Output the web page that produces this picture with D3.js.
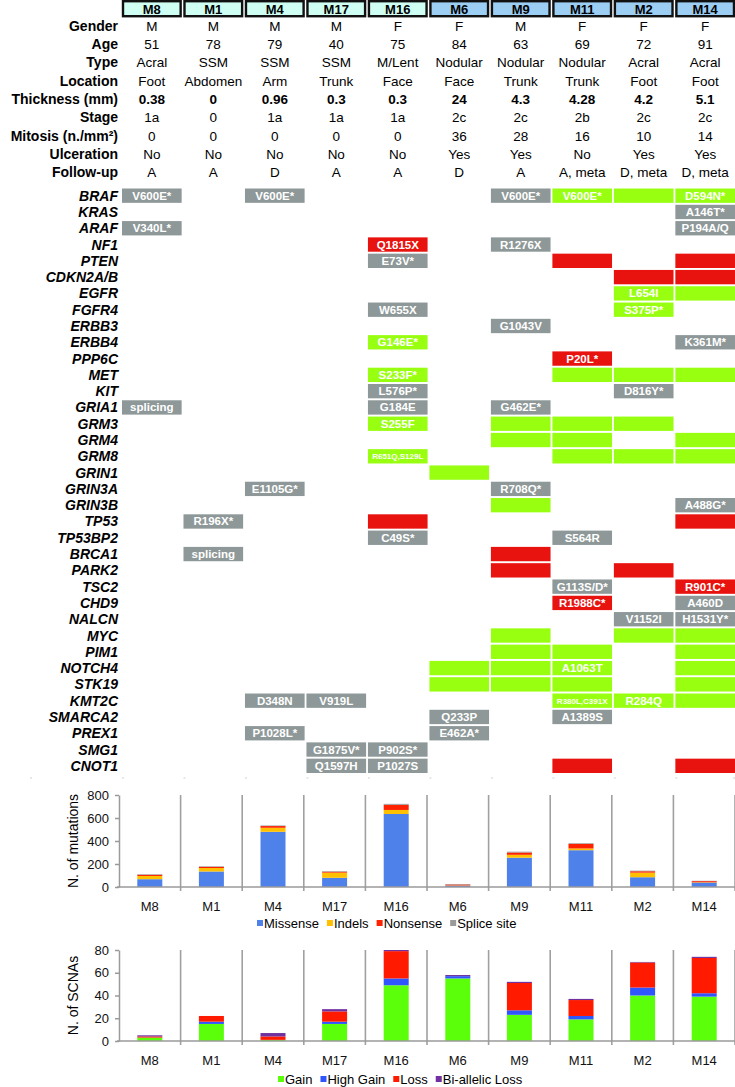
<!DOCTYPE html>
<html>
<head>
<meta charset="utf-8">
<script src="https://cdn.jsdelivr.net/npm/d3@7"></script>
<style>
body { margin: 0; background: #fff; }
svg { font-family: 'Liberation Sans', Arial, Helvetica, sans-serif; }
.axis path, .axis line { stroke: #9a9a9a; stroke-width: 1.5; }
.axis text { font-size: 13px; fill: #111; }
</style>
</head>
<body>
<svg id="chart" width="735" height="1087"></svg>
<script>
var samples = ['M8', 'M1', 'M4', 'M17', 'M16', 'M6', 'M9', 'M11', 'M2', 'M14'];
var sampleGroup = ['a', 'a', 'a', 'a', 'a', 'b', 'b', 'b', 'b', 'b'];

var clinicalLabels = ['Gender', 'Age', 'Type', 'Location', 'Thickness (mm)', 'Stage', 'Mitosis (n./mm\u00b2)', 'Ulceration', 'Follow-up'];
var gender = ['M', 'M', 'M', 'M', 'F', 'F', 'M', 'F', 'F', 'F'];
var age = ['51', '78', '79', '40', '75', '84', '63', '69', '72', '91'];
var tumourType = ['Acral', 'SSM', 'SSM', 'SSM', 'M/Lent', 'Nodular', 'Nodular', 'Nodular', 'Acral', 'Acral'];
var tumourSite = ['Foot', 'Abdomen', 'Arm', 'Trunk', 'Face', 'Face', 'Trunk', 'Trunk', 'Foot', 'Foot'];
var thickness = ['0.38', '0', '0.96', '0.3', '0.3', '24', '4.3', '4.28', '4.2', '5.1'];
var stage = ['1a', '0', '1a', '1a', '1a', '2c', '2c', '2b', '2c', '2c'];
var mitosis = ['0', '0', '0', '0', '0', '36', '28', '16', '10', '14'];
var ulceration = ['No', 'No', 'No', 'No', 'No', 'Yes', 'Yes', 'No', 'Yes', 'Yes'];
var followUp = ['A', 'A', 'D', 'A', 'A', 'D', 'A', 'A, meta', 'D, meta', 'D, meta'];

var genes = ['BRAF', 'KRAS', 'ARAF', 'NF1', 'PTEN', 'CDKN2A/B', 'EGFR', 'FGFR4', 'ERBB3', 'ERBB4',
    'PPP6C', 'MET', 'KIT', 'GRIA1', 'GRM3', 'GRM4', 'GRM8', 'GRIN1', 'GRIN3A', 'GRIN3B',
    'TP53', 'TP53BP2', 'BRCA1', 'PARK2', 'TSC2', 'CHD9', 'NALCN', 'MYC', 'PIM1', 'NOTCH4',
    'STK19', 'KMT2C', 'SMARCA2', 'PREX1', 'SMG1', 'CNOT1'];

// [gene, sample, kind, label]   kind: mut = point mutation, gain, loss
var alterations = [
    ['BRAF', 'M8', 'mut', 'V600E*'], ['BRAF', 'M4', 'mut', 'V600E*'], ['BRAF', 'M9', 'mut', 'V600E*'],
    ['BRAF', 'M11', 'gain', 'V600E*'], ['BRAF', 'M2', 'gain', ''], ['BRAF', 'M14', 'gain', 'D594N*'],
    ['KRAS', 'M14', 'mut', 'A146T*'],
    ['ARAF', 'M8', 'mut', 'V340L*'], ['ARAF', 'M14', 'mut', 'P194A/Q'],
    ['NF1', 'M16', 'loss', 'Q1815X'], ['NF1', 'M9', 'mut', 'R1276X'],
    ['PTEN', 'M16', 'mut', 'E73V*'], ['PTEN', 'M11', 'loss', ''], ['PTEN', 'M14', 'loss', ''],
    ['CDKN2A/B', 'M2', 'loss', ''], ['CDKN2A/B', 'M14', 'loss', ''],
    ['EGFR', 'M2', 'gain', 'L654I'], ['EGFR', 'M14', 'gain', ''],
    ['FGFR4', 'M16', 'mut', 'W655X'], ['FGFR4', 'M2', 'gain', 'S375P*'],
    ['ERBB3', 'M9', 'mut', 'G1043V'],
    ['ERBB4', 'M16', 'gain', 'G146E*'], ['ERBB4', 'M14', 'mut', 'K361M*'],
    ['PPP6C', 'M11', 'loss', 'P20L*'],
    ['MET', 'M16', 'gain', 'S233F*'], ['MET', 'M11', 'gain', ''], ['MET', 'M2', 'gain', ''], ['MET', 'M14', 'gain', ''],
    ['KIT', 'M16', 'mut', 'L576P*'], ['KIT', 'M2', 'mut', 'D816Y*'],
    ['GRIA1', 'M8', 'mut', 'splicing'], ['GRIA1', 'M16', 'mut', 'G184E'], ['GRIA1', 'M9', 'mut', 'G462E*'],
    ['GRM3', 'M16', 'gain', 'S255F'], ['GRM3', 'M9', 'gain', ''], ['GRM3', 'M11', 'gain', ''], ['GRM3', 'M2', 'gain', ''],
    ['GRM4', 'M9', 'gain', ''], ['GRM4', 'M11', 'gain', ''], ['GRM4', 'M14', 'gain', ''],
    ['GRM8', 'M16', 'gain', 'R651Q,S129L'], ['GRM8', 'M11', 'gain', ''], ['GRM8', 'M2', 'gain', ''], ['GRM8', 'M14', 'gain', ''],
    ['GRIN1', 'M6', 'gain', ''],
    ['GRIN3A', 'M4', 'mut', 'E1105G*'], ['GRIN3A', 'M9', 'mut', 'R708Q*'],
    ['GRIN3B', 'M9', 'gain', ''], ['GRIN3B', 'M14', 'mut', 'A488G*'],
    ['TP53', 'M1', 'mut', 'R196X*'], ['TP53', 'M16', 'loss', ''], ['TP53', 'M14', 'loss', ''],
    ['TP53BP2', 'M16', 'mut', 'C49S*'], ['TP53BP2', 'M11', 'mut', 'S564R'],
    ['BRCA1', 'M1', 'mut', 'splicing'], ['BRCA1', 'M9', 'loss', ''],
    ['PARK2', 'M9', 'loss', ''], ['PARK2', 'M2', 'loss', ''],
    ['TSC2', 'M11', 'mut', 'G113S/D*'], ['TSC2', 'M14', 'loss', 'R901C*'],
    ['CHD9', 'M11', 'loss', 'R1988C*'], ['CHD9', 'M14', 'mut', 'A460D'],
    ['NALCN', 'M2', 'mut', 'V1152I'], ['NALCN', 'M14', 'mut', 'H1531Y*'],
    ['MYC', 'M9', 'gain', ''], ['MYC', 'M2', 'gain', ''], ['MYC', 'M14', 'gain', ''],
    ['PIM1', 'M9', 'gain', ''], ['PIM1', 'M11', 'gain', ''], ['PIM1', 'M14', 'gain', ''],
    ['NOTCH4', 'M6', 'gain', ''], ['NOTCH4', 'M9', 'gain', ''], ['NOTCH4', 'M11', 'gain', 'A1063T'], ['NOTCH4', 'M14', 'gain', ''],
    ['STK19', 'M6', 'gain', ''], ['STK19', 'M9', 'gain', ''], ['STK19', 'M11', 'gain', ''], ['STK19', 'M14', 'gain', ''],
    ['KMT2C', 'M4', 'mut', 'D348N'], ['KMT2C', 'M17', 'mut', 'V919L'], ['KMT2C', 'M11', 'gain', 'R380L,C391X'],
    ['KMT2C', 'M2', 'gain', 'R284Q'], ['KMT2C', 'M14', 'gain', ''],
    ['SMARCA2', 'M6', 'mut', 'Q233P'], ['SMARCA2', 'M11', 'mut', 'A1389S'],
    ['PREX1', 'M4', 'mut', 'P1028L*'], ['PREX1', 'M6', 'mut', 'E462A*'],
    ['SMG1', 'M17', 'mut', 'G1875V*'], ['SMG1', 'M16', 'mut', 'P902S*'],
    ['CNOT1', 'M17', 'mut', 'Q1597H'], ['CNOT1', 'M16', 'mut', 'P1027S'], ['CNOT1', 'M11', 'loss', ''], ['CNOT1', 'M14', 'loss', '']
];

var mutationTypes = ['Missense', 'Indels', 'Nonsense', 'Splice site'];
var missense = [68, 135, 480, 80, 635, 12, 255, 320, 85, 38];
var indels = [28, 30, 35, 45, 35, 2, 25, 15, 40, 3];
var nonsense = [10, 10, 15, 8, 45, 8, 20, 40, 12, 10];
var spliceSite = [5, 5, 5, 5, 8, 4, 7, 6, 5, 3];

var scnaTypes = ['Gain', 'High Gain', 'Loss', 'Bi-allelic Loss'];
var gain = [3, 15, 1, 15, 49, 55, 23, 19, 40, 39];
var highGain = [0, 2, 0, 2, 6, 2, 4, 3, 7, 3];
var loss = [1, 5, 3, 9, 24, 0, 24, 14, 22, 31];
var biallelicLoss = [1, 0, 3, 2, 1, 1, 1, 1, 0.5, 1];

var cellColor = { mut: '#8e9898', gain: '#99ff11', loss: '#e8120f' };
var headerColor = { a: '#cffff2', b: '#9ccdf3' };
var mutColors = ['#4f81ea', '#ffc000', '#ff2200', '#9a9a9a'];
var scnaColors = ['#5cff0a', '#2f55ff', '#ff1a00', '#7030a0'];

var svg = d3.select('#chart');
var labelX = 118;

var colX = d3.scaleBand().domain(samples).range([122, 735]).paddingInner(0.03);
var clinY = d3.scaleBand().domain(clinicalLabels).range([16.8, 181.8]);
var geneY = d3.scaleBand().domain(genes).range([188.5, 773]).paddingInner(0.12);

// header boxes
var header = svg.append('g').classed('header', true);
header.selectAll('rect')
    .data(samples)
    .enter().append('rect')
    .attr('x', function (d) { return colX(d) + 1; })
    .attr('y', 1.2)
    .attr('width', colX.bandwidth() - 2)
    .attr('height', 15)
    .attr('fill', function (d, i) { return headerColor[sampleGroup[i]]; })
    .attr('stroke', '#111')
    .attr('stroke-width', 2.4);
header.selectAll('text')
    .data(samples)
    .enter().append('text')
    .attr('x', function (d) { return colX(d) + colX.bandwidth() / 2; })
    .attr('y', 13.5)
    .attr('text-anchor', 'middle')
    .attr('font-size', 13)
    .attr('font-weight', 'bold')
    .text(function (d) { return d; });

// clinical table
var clinicalRows = [gender, age, tumourType, tumourSite, thickness, stage, mitosis, ulceration, followUp];
var clin = svg.append('g').classed('clinical', true);
clinicalLabels.forEach(function (label, r) {
    var cy = clinY(label) + clinY.bandwidth() / 2 + 4.8;
    var bold = label.indexOf('Thickness') === 0;
    clin.append('text')
        .attr('x', labelX)
        .attr('y', cy)
        .attr('text-anchor', 'end')
        .attr('font-size', 14)
        .attr('font-weight', 'bold')
        .text(label);
    clin.selectAll('text.v' + r)
        .data(clinicalRows[r])
        .enter().append('text')
        .classed('v' + r, true)
        .attr('x', function (d, i) { return colX(samples[i]) + colX.bandwidth() / 2; })
        .attr('y', cy)
        .attr('text-anchor', 'middle')
        .attr('font-size', 13.5)
        .attr('font-weight', bold ? 'bold' : 'normal')
        .text(function (d) { return d; });
});

// gene alteration matrix
var matrix = svg.append('g').classed('matrix', true);
matrix.selectAll('text.gene')
    .data(genes)
    .enter().append('text')
    .classed('gene', true)
    .attr('x', labelX)
    .attr('y', function (d) { return geneY(d) + geneY.bandwidth() / 2 + 5; })
    .attr('text-anchor', 'end')
    .attr('font-size', 14)
    .attr('font-weight', 'bold')
    .attr('font-style', 'italic')
    .text(function (d) { return d; });

var cells = matrix.selectAll('g.cell')
    .data(alterations)
    .enter().append('g')
    .classed('cell', true);
cells.append('rect')
    .attr('x', function (d) { return colX(d[1]); })
    .attr('y', function (d) { return geneY(d[0]); })
    .attr('width', colX.bandwidth())
    .attr('height', geneY.bandwidth())
    .attr('fill', function (d) { return cellColor[d[2]]; });
cells.append('text')
    .attr('x', function (d) { return colX(d[1]) + colX.bandwidth() / 2; })
    .attr('y', function (d) { return geneY(d[0]) + geneY.bandwidth() / 2 + (d[3].length > 8 ? 3 : 4); })
    .attr('text-anchor', 'middle')
    .attr('font-size', function (d) { return d[3].length > 8 ? 8 : 11.5; })
    .attr('font-weight', 'bold')
    .attr('fill', '#fff')
    .text(function (d) { return d[3]; });

// faint separator ticks under the matrix
svg.append('g').selectAll('line')
    .data([30].concat(samples.map(function (s) { return colX(s); })).concat([733]))
    .enter().append('line')
    .attr('x1', function (d) { return d; })
    .attr('x2', function (d) { return d + 2; })
    .attr('y1', 778).attr('y2', 778)
    .attr('stroke', '#d0d0d0');

// stacked bar charts
function stackedChart(cfg) {
    var g = svg.append('g');
    var x = d3.scaleBand().domain(samples).range([119, 735]);
    var y = d3.scaleLinear().domain([0, cfg.max]).range([cfg.bottom, cfg.top]);
    var rows = samples.map(function (s, i) {
        var o = { sample: s };
        cfg.keys.forEach(function (k, j) { o[k] = cfg.series[j][i]; });
        return o;
    });
    var stack = d3.stack().keys(cfg.keys)(rows);

    g.selectAll('line.sep')
        .data(samples)
        .enter().append('line')
        .classed('sep', true)
        .attr('x1', function (d) { return x(d) + x.step(); })
        .attr('x2', function (d) { return x(d) + x.step(); })
        .attr('y1', cfg.top)
        .attr('y2', cfg.bottom + 4)
        .attr('stroke', '#a0a0a0')
        .attr('stroke-width', 1.6);

    g.selectAll('g.layer')
        .data(stack)
        .enter().append('g')
        .classed('layer', true)
        .attr('fill', function (d, i) { return cfg.colors[i]; })
        .selectAll('rect')
        .data(function (d) { return d; })
        .enter().append('rect')
        .attr('x', function (d) { return x(d.data.sample) + x.bandwidth() / 2 - 12.5; })
        .attr('width', 25)
        .attr('y', function (d) { return y(d[1]); })
        .attr('height', function (d) { return y(d[0]) - y(d[1]); });

    g.append('g')
        .classed('axis', true)
        .attr('transform', 'translate(119,0)')
        .call(d3.axisLeft(y).tickValues(cfg.ticks).tickSize(4).tickSizeOuter(0).tickPadding(6));

    g.append('line')
        .attr('x1', 117).attr('x2', 735)
        .attr('y1', cfg.bottom).attr('y2', cfg.bottom)
        .attr('stroke', '#9a9a9a').attr('stroke-width', 1.6);

    g.append('g')
        .classed('axis', true)
        .attr('transform', 'translate(0,' + cfg.bottom + ')')
        .call(d3.axisBottom(x).tickSize(0).tickPadding(15))
        .call(function (a) { a.select('.domain').remove(); });

    g.append('text')
        .attr('transform', 'translate(78,' + ((cfg.top + cfg.bottom) / 2) + ') rotate(-90)')
        .attr('text-anchor', 'middle')
        .attr('font-size', 14)
        .text(cfg.title);

    var legend = g.append('g').attr('transform', 'translate(' + cfg.legendX + ',' + cfg.legendY + ')');
    var lx = 0;
    cfg.keys.forEach(function (k, i) {
        legend.append('rect')
            .attr('x', lx).attr('y', -8)
            .attr('width', 6).attr('height', 6)
            .attr('fill', cfg.colors[i]);
        var t = legend.append('text')
            .attr('x', lx + 7)
            .attr('font-size', 13)
            .text(k);
        lx += 7 + t.node().getComputedTextLength() + 8;
    });
}

stackedChart({
    keys: mutationTypes,
    series: [missense, indels, nonsense, spliceSite],
    colors: mutColors,
    max: 800, ticks: [0, 200, 400, 600, 800],
    top: 795, bottom: 887,
    title: 'N. of mutations',
    legendX: 257, legendY: 928
});

stackedChart({
    keys: scnaTypes,
    series: [gain, highGain, loss, biallelicLoss],
    colors: scnaColors,
    max: 80, ticks: [0, 20, 40, 60, 80],
    top: 950, bottom: 1041,
    title: 'N. of SCNAs',
    legendX: 278, legendY: 1084
});
</script>
</body>
</html>
